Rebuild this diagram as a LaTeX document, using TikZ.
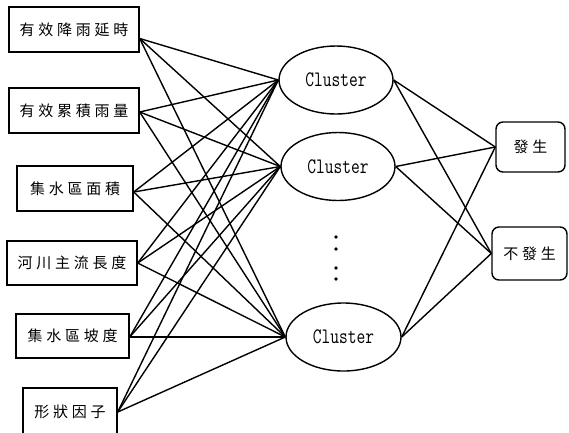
\documentclass[tikz,border=0pt]{standalone}
\usepackage{fontspec}
\newfontfamily\cjk[LetterSpace=25]{Noto Sans CJK TC}
\usetikzlibrary{shapes.geometric}
\tikzset{
  inbox/.style={draw, line width=1.4pt, inner sep=0pt, font=\cjk\fontsize{15}{16}\selectfont},
  clus/.style={draw, ellipse, line width=1.4pt, inner sep=0pt, minimum width=114pt, minimum height=68pt, font=\fontsize{17}{17}\ttfamily},
  outbox/.style={draw, rounded corners=7pt, line width=1.4pt, inner sep=0pt, font=\cjk\fontsize{15}{16}\selectfont},
  link/.style={line width=1.4pt},
  dotmark/.style={circle, fill, inner sep=0pt, minimum size=3.8pt}
}
\begin{document}
\begin{tikzpicture}[x=1pt,y=-1pt]
\useasboundingbox (0,0) rectangle (569,432);
% input boxes
\node[inbox, minimum width=130pt, minimum height=45pt] (b1) at (74,29.5) {有效降雨延時};
\node[inbox, minimum width=130pt, minimum height=45pt] (b2) at (74,110.5) {有效累積雨量};
\node[inbox, minimum width=116pt, minimum height=45pt] (b3) at (75,188.5) {集水區面積};
\node[inbox, minimum width=130pt, minimum height=44pt] (b4) at (72,263) {河川主流長度};
\node[inbox, minimum width=113pt, minimum height=44pt] (b5) at (72.5,336) {集水區坡度};
\node[inbox, minimum width=94pt, minimum height=48pt] (b6) at (70,412) {形狀因子};
% clusters
\node[clus] (c1) at (336,80) {\scalebox{1}[1.3]{Cluster}};
\node[clus] (c2) at (338,166.5) {\scalebox{1}[1.3]{Cluster}};
\node[clus, minimum width=115pt] (c3) at (343.5,337) {\scalebox{1}[1.3]{Cluster}};
% dots
\node[dotmark] (d1) at (336,237) {};
\node[dotmark] (d2) at (336,249) {};
\node[dotmark] (d3) at (336,268) {};
\node[dotmark] (d4) at (336,279) {};
% outputs
\node[outbox, minimum width=69pt, minimum height=50pt] (o1) at (530.5,147) {發生};
\node[outbox, minimum width=75pt, minimum height=53pt] (o2) at (529.5,253.5) {不發生};
% connection points
\coordinate (p1) at ([yshift=-9pt]b1.east);
\coordinate (p2) at ([yshift=-1.5pt]b2.east);
\coordinate (p3) at ([yshift=-3.5pt]b3.east);
\coordinate (p4) at (b4.east);
\coordinate (p5) at ([yshift=-1pt]b5.east);
\coordinate (p6) at (b6.east);
\foreach \b in {p1,p2,p3,p4,p5,p6}{
  \foreach \c in {c1,c2,c3}{
    \draw[link] (\b) -- (\c.west);
  }
}
\foreach \c in {c1,c2,c3}{
  \draw[link] (\c.east) -- (o1.west);
  \draw[link] (\c.east) -- (o2.west);
}
\end{tikzpicture}
\end{document}
